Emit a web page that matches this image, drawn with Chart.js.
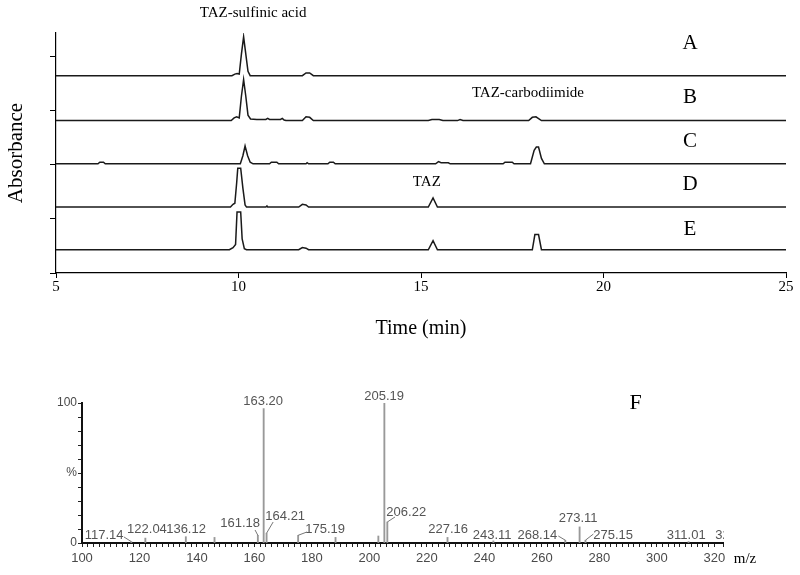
<!DOCTYPE html>
<html>
<head>
<meta charset="utf-8">
<script src="https://cdn.jsdelivr.net/npm/chart.js@4.4.0/dist/chart.umd.min.js"></script>
<style>
  body { margin: 0; background: #fff; }
  #wrap { position: relative; width: 800px; height: 575px; }
  #hplc { position: absolute; left: 0; top: 0; }
  #ms { position: absolute; left: 0; top: 345px; }
</style>
</head>
<body>
<div id="wrap">
  <canvas id="hplc" width="800" height="345"></canvas>
  <canvas id="ms" width="800" height="230"></canvas>
</div>
<script>
/* HPLC traces: [time (min), absorbance above the trace's own baseline] */
const traceA = [
  [5, 0], [9.82, 0], [9.9, 0.03], [9.96, 0.04], [10.02, 0.03], [10.08, 0.4], [10.14, 0.72],
  [10.2, 0.4], [10.26, 0.08], [10.32, 0], [11.75, 0], [11.85, 0.05], [11.95, 0.05], [12.05, 0], [25, 0]
];
const traceB = [
  [5, 0], [9.8, 0], [9.88, 0.05], [9.95, 0.07], [10.02, 0.05], [10.08, 0.45], [10.14, 0.76],
  [10.2, 0.45], [10.26, 0.1], [10.33, 0.03], [10.5, 0.02], [10.75, 0.02], [10.8, 0.04], [10.85, 0.02],
  [11.15, 0.02], [11.2, 0.04], [11.25, 0.01], [11.3, 0], [11.75, 0], [11.85, 0.07], [11.95, 0.06],
  [12.05, 0], [15.2, 0], [15.3, 0.02], [15.5, 0.02], [15.6, 0], [16.0, 0], [16.07, 0.02], [16.15, 0],
  [17.95, 0], [18.05, 0.06], [18.15, 0.07], [18.3, 0], [25, 0]
];
const traceC = [
  [5, 0], [6.15, 0], [6.2, 0.03], [6.3, 0.03], [6.35, 0], [10.05, 0], [10.12, 0.15], [10.18, 0.33],
  [10.25, 0.15], [10.32, 0.03], [10.4, 0], [10.85, 0], [10.9, 0.03], [11.05, 0.03], [11.1, 0],
  [11.85, 0], [11.88, 0.02], [11.92, 0], [12.45, 0], [12.5, 0.03], [12.6, 0.03], [12.65, 0],
  [15.4, 0], [15.48, 0.04], [15.55, 0.02], [15.75, 0.02], [15.8, 0], [17.25, 0], [17.3, 0.03],
  [17.5, 0.03], [17.55, 0], [18.0, 0], [18.1, 0.25], [18.16, 0.31], [18.22, 0.31], [18.3, 0.1],
  [18.38, 0], [25, 0]
];
const traceD = [
  [5, 0], [9.78, 0], [9.85, 0.05], [9.9, 0.07], [9.95, 0.45], [9.98, 0.72], [10.06, 0.72],
  [10.12, 0.35], [10.18, 0.04], [10.22, 0], [10.75, 0], [10.78, 0.02], [10.8, 0],
  [11.65, 0], [11.75, 0.05], [11.85, 0.04], [11.92, 0], [15.2, 0], [15.33, 0.17], [15.45, 0], [25, 0]
];
const traceE = [
  [5, 0], [9.75, 0], [9.85, 0.04], [9.92, 0.1], [9.96, 0.7], [10.06, 0.7], [10.1, 0.2],
  [10.16, 0.02], [10.22, 0], [11.65, 0], [11.75, 0.04], [11.85, 0.03], [11.92, 0],
  [15.2, 0], [15.33, 0.17], [15.45, 0], [18.05, 0], [18.12, 0.28], [18.22, 0.28], [18.3, 0], [25, 0]
];
const traceNames = ["A", "B", "C", "D", "E"];
const baselines = [3.65, 2.82, 2.02, 1.22, 0.43];
const timeTicks = [5, 10, 15, 20, 25];
const absTicks = [0, 1, 2, 3, 4];

/* mass spectrum F: m/z and relative intensity (%) */
const mz = [117.14, 122.04, 136.12, 146.1, 161.18, 163.20, 164.21, 175.19, 188.2, 203.1,
  205.19, 206.22, 227.16, 243.11, 268.14, 273.11, 275.15, 311.01];
const intensity = [1, 3.5, 4.5, 4, 5.5, 96, 7, 5.5, 4, 5, 100, 15, 4, 1.5, 2, 11.5, 2, 1];
const mzTicks = [100, 120, 140, 160, 180, 200, 220, 240, 260, 280, 300, 320];

const serif = '"Liberation Serif", "Times New Roman", serif';
const sans = '"Liberation Sans", Arial, sans-serif';

// labels in the chromatogram, placed in data units
const hplcText = {
  id: "hplcText",
  afterDraw(chart) {
    const { ctx, scales: { x, y } } = chart;
    ctx.save();
    ctx.fillStyle = "#000";
    ctx.textAlign = "center";
    ctx.textBaseline = "middle";
    ctx.font = "21px " + serif;
    const letterY = [0.59, 0.42, 0.41, 0.41, 0.37];
    traceNames.forEach((n, i) => {
      ctx.fillText(n, x.getPixelForValue(22.37), y.getPixelForValue(baselines[i] + letterY[i]));
    });
    ctx.font = "15px " + serif;
    ctx.fillText("TAZ-sulfinic acid", x.getPixelForValue(10.4), y.getPixelForValue(4.8));
    ctx.fillText("TAZ-carbodiimide", x.getPixelForValue(17.93), y.getPixelForValue(3.33));
    ctx.fillText("TAZ", x.getPixelForValue(15.16), y.getPixelForValue(1.69));
    ctx.restore();
  }
};

new Chart(document.getElementById("hplc"), {
  type: "line",
  data: {
    datasets: [traceA, traceB, traceC, traceD, traceE].map((tr, i) => ({
      label: traceNames[i],
      data: tr.map((p) => ({ x: p[0], y: p[1] + baselines[i] })),
      borderColor: "#1a1a1a",
      borderWidth: 1.5,
      pointRadius: 0,
      tension: 0,
      fill: false,
    })),
  },
  options: {
    responsive: false,
    animation: false,
    layout: { padding: { left: 0, right: 14, top: 33, bottom: 0 } },
    plugins: { legend: { display: false }, tooltip: { enabled: false } },
    scales: {
      x: {
        type: "linear",
        min: 5,
        max: 25,
        afterBuildTicks: (s) => { s.ticks = timeTicks.map((v) => ({ value: v })); },
        afterFit: (s) => { s.height = 72; },
        grid: { drawOnChartArea: false, tickLength: 5, color: "#000" },
        border: { color: "#000", width: 1.2 },
        ticks: { color: "#000", font: { family: serif, size: 15 }, padding: 0, maxRotation: 0 },
        title: {
          display: true, text: "Time (min)", color: "#000",
          font: { family: serif, size: 20 }, padding: { top: 0, bottom: 4 },
        },
      },
      y: {
        min: 0,
        max: 4.44,
        afterBuildTicks: (s) => { s.ticks = absTicks.map((v) => ({ value: v })); },
        afterFit: (s) => { s.width = 56; },
        grid: { drawOnChartArea: false, tickLength: 6, color: "#000" },
        border: { color: "#000", width: 1.2 },
        ticks: { display: false },
        title: {
          display: true, text: "Absorbance", color: "#000",
          font: { family: serif, size: 21 }, padding: { top: 4, bottom: 0 },
        },
      },
    },
  },
  plugins: [hplcText],
});

// peak labels of the spectrum: [label m/z pos, label % pos, leader start m/z, leader start %]
const msLabelLayout = [
  [107.7, 5.7, 114.6, 4.3], [122.6, 10], [136.2, 10], null, [155, 14.3, 160.2, 9.3],
  [163.0, 101], [170.7, 19.3, 166.5, 15], [184.6, 10, 178.3, 7.9], null, null,
  [205.1, 105], [212.8, 22, 208.9, 18.6], [227.4, 10], [242.7, 5.7], [258.4, 5.7, 265.7, 5],
  [272.6, 17.9], [284.8, 5.7, 277.9, 6.4], [310.2, 5.3]
];

const msText = {
  id: "msText",
  afterDraw(chart) {
    const { ctx, chartArea, scales: { x, y } } = chart;
    ctx.save();
    ctx.fillStyle = "#555";
    ctx.strokeStyle = "#777";
    ctx.lineWidth = 1;
    ctx.font = "13px " + sans;
    ctx.textAlign = "center";
    ctx.textBaseline = "middle";
    mz.forEach((m, i) => {
      const lay = msLabelLayout[i];
      if (!lay) return;
      ctx.fillText(m.toFixed(2), x.getPixelForValue(lay[0]), y.getPixelForValue(lay[1]));
      if (lay.length > 2) {
        ctx.beginPath();
        ctx.moveTo(x.getPixelForValue(lay[2]), y.getPixelForValue(lay[3]));
        ctx.lineTo(x.getPixelForValue(m), y.getPixelForValue(intensity[i]));
        ctx.stroke();
      }
    });
    // label of the next peak, cut off by the end of the axis
    ctx.save();
    ctx.beginPath();
    ctx.rect(0, 0, chartArea.right + 1, chart.height);
    ctx.clip();
    ctx.textAlign = "left";
    ctx.fillText("325.1", x.getPixelForValue(320.3), y.getPixelForValue(5.3));
    ctx.restore();
    ctx.fillStyle = "#000";
    ctx.font = "15px " + serif;
    ctx.fillText("m/z", chartArea.right + 22, x.top + 16);
    ctx.font = "22px " + serif;
    ctx.fillText("F", x.getPixelForValue(292.6), y.getPixelForValue(100));
    ctx.restore();
  }
};

new Chart(document.getElementById("ms"), {
  type: "bar",
  data: {
    datasets: [{
      data: mz.map((m, i) => ({ x: m, y: intensity[i] })),
      backgroundColor: "#999",
      barThickness: 1.2,
    }],
  },
  options: {
    responsive: false,
    animation: false,
    layout: { padding: { left: 0, right: 77, top: 58, bottom: 0 } },
    plugins: { legend: { display: false }, tooltip: { enabled: false } },
    scales: {
      x: {
        type: "linear",
        min: 100,
        max: 323,
        offset: false,
        afterFit: (s) => { s.height = 32; },
        grid: { drawOnChartArea: false, tickLength: 4, color: "#222", offset: false },
        border: { color: "#111", width: 2 },
        ticks: {
          stepSize: 2, autoSkip: false, maxRotation: 0, padding: 4, color: "#4a4a4a",
          font: { family: sans, size: 13 },
          callback: (v) => (mzTicks.includes(v) ? v : ""),
        },
      },
      y: {
        min: 0,
        max: 100,
        afterFit: (s) => { s.width = 82; },
        grid: { drawOnChartArea: false, tickLength: 4, color: "#222" },
        border: { color: "#111", width: 2 },
        ticks: {
          stepSize: 10, autoSkip: false, padding: 1, color: "#4a4a4a",
          font: { family: sans, size: 12 },
          callback: (v) => (v === 100 ? "100" : v === 50 ? "%" : v === 0 ? "0" : ""),
        },
      },
    },
  },
  plugins: [msText],
});
</script>
</body>
</html>
